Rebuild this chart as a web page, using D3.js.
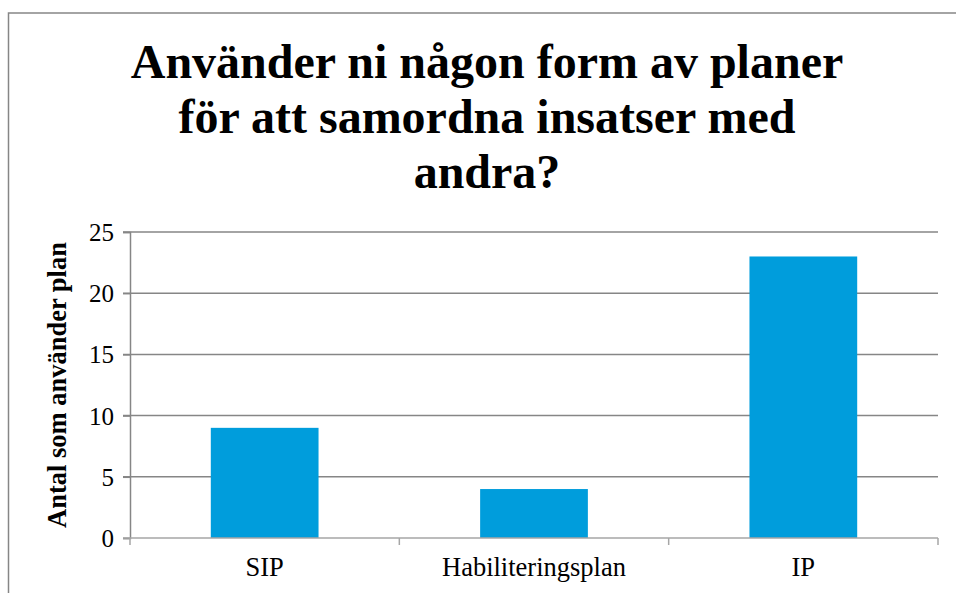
<!DOCTYPE html>
<html>
<head>
<meta charset="utf-8">
<script src="https://cdn.jsdelivr.net/npm/d3@7/dist/d3.min.js"></script>
<style>
  body { margin: 0; background: #fff; }
  svg text { font-family: "Liberation Serif", "Times New Roman", serif; }
</style>
</head>
<body>
<div id="chart"></div>
<script>
const categories = ['SIP', 'Habiliteringsplan', 'IP'];
const values = [9, 4, 23];
const yTicks = [0, 5, 10, 15, 20, 25];
const titleLines = ['Använder ni någon form av planer', 'för att samordna insatser med', 'andra?'];
const yLabel = 'Antal som använder plan';

const serif = '"Liberation Serif", "Times New Roman", serif';
const width = 956, height = 593;
const margin = { top: 232, right: 18, bottom: 55, left: 130 };

const svg = d3.select('#chart').append('svg')
    .attr('width', width)
    .attr('height', height);

// outer chart frame
svg.append('rect')
    .attr('x', 8.5).attr('y', 13)
    .attr('width', 1000).attr('height', 700)
    .attr('fill', 'none')
    .attr('stroke', '#868686')
    .attr('stroke-width', 1.5);

const x = d3.scaleBand()
    .domain(categories)
    .range([margin.left, width - margin.right])
    .paddingInner(0.6)
    .paddingOuter(0.3);

const y = d3.scaleLinear()
    .domain([0, 25])
    .range([height - margin.bottom, margin.top]);

// gridlines
svg.append('g')
    .selectAll('line')
    .data(yTicks.filter(d => d > 0))
    .enter().append('line')
    .attr('x1', margin.left - 7)
    .attr('x2', width - margin.right)
    .attr('y1', d => y(d))
    .attr('y2', d => y(d))
    .attr('stroke', '#868686')
    .attr('stroke-width', 1.5);

// y axis
const yAxis = svg.append('g')
    .attr('transform', 'translate(' + margin.left + ',0)')
    .call(d3.axisLeft(y).tickValues(yTicks).tickSize(7).tickPadding(9));
yAxis.attr('font-family', serif);
yAxis.select('.domain').attr('stroke', '#868686').attr('stroke-width', 1.5);
yAxis.selectAll('.tick line').attr('stroke', '#868686').attr('stroke-width', 1.5);
yAxis.selectAll('.tick text')
    .attr('font-size', 25)
    .attr('dy', '0.34em')
    .attr('fill', '#000');

// bars
svg.append('g')
    .selectAll('rect')
    .data(values)
    .enter().append('rect')
    .attr('x', (d, i) => x(categories[i]))
    .attr('width', x.bandwidth())
    .attr('y', d => y(d))
    .attr('height', d => y(0) - y(d))
    .attr('fill', '#009ddc');

// x axis with ticks at category boundaries
const boundaries = d3.range(categories.length + 1).map(i => margin.left + i * (width - margin.right - margin.left) / categories.length);
const xAxis = svg.append('g');
xAxis.append('line')
    .attr('x1', margin.left - 7).attr('x2', width - margin.right)
    .attr('y1', y(0)).attr('y2', y(0))
    .attr('stroke', '#a6a6a6').attr('stroke-width', 1.5);
xAxis.selectAll('.bt')
    .data(boundaries)
    .enter().append('line')
    .attr('class', 'bt')
    .attr('x1', d => d).attr('x2', d => d)
    .attr('y1', y(0)).attr('y2', y(0) + 7)
    .attr('stroke', '#a6a6a6').attr('stroke-width', 1.5);
xAxis.selectAll('text')
    .data(categories)
    .enter().append('text')
    .attr('x', d => x(d) + x.bandwidth() / 2)
    .attr('y', y(0) + 38)
    .attr('text-anchor', 'middle')
    .attr('font-family', serif)
    .attr('font-size', 26.5)
    .attr('fill', '#000')
    .text(d => d);

// y label
svg.append('text')
    .attr('transform', 'translate(66,' + y(12.5) + ') rotate(-90)')
    .attr('text-anchor', 'middle')
    .attr('font-family', serif)
    .attr('font-size', 26.5)
    .attr('font-weight', 'bold')
    .text(yLabel);

// title
svg.append('g')
    .selectAll('text')
    .data(titleLines)
    .enter().append('text')
    .attr('x', 487)
    .attr('y', (d, i) => 78 + i * 55)
    .attr('text-anchor', 'middle')
    .attr('font-family', serif)
    .attr('font-size', 48)
    .attr('font-weight', 'bold')
    .text(d => d);
</script>
</body>
</html>
